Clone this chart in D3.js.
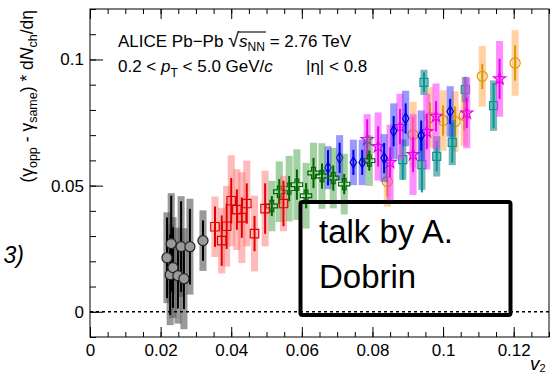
<!DOCTYPE html>
<html>
<head>
<meta charset="utf-8">
<script src="https://cdn.jsdelivr.net/npm/d3@7"></script>
<style>
  body { margin: 0; background: #fff; overflow: hidden; }
  text { font-family: "Liberation Sans", Arial, sans-serif; }
</style>
</head>
<body>
<div id="chart"></div>
<script>
// ----------- DATA -----------------------------------
// each colour = one centrality class, points = event-shape classes
const grayV2   = [0.0218, 0.0230, 0.0258, 0.0283, 0.0320, 0.0227, 0.0235, 0.0249, 0.0266];
const grayVal  = [0.0214, 0.0270, 0.0258, 0.0258, 0.0282, 0.0147, 0.0175, 0.0143, 0.0131];
const grayStat = [0.016, 0.019, 0.018, 0.015, 0.008, 0.016, 0.016, 0.013, 0.012];
const graySys  = [0.018, 0.020, 0.020, 0.019, 0.012, 0.020, 0.020, 0.019, 0.020];

const redV2   = [0.0354, 0.0373, 0.0387, 0.0400, 0.0416, 0.0430, 0.0444, 0.0466, 0.0496, 0.0548];
const redVal  = [0.0337, 0.0282, 0.0339, 0.0440, 0.0405, 0.0373, 0.0429, 0.0310, 0.0409, 0.0429];
const redStat = [0.008, 0.010, 0.009, 0.009, 0.008, 0.008, 0.008, 0.007, 0.010, 0.009];
const redSys  = [0.012, 0.013, 0.016, 0.018, 0.016, 0.018, 0.017, 0.015, 0.015, 0.011];

const greenV2   = [0.0515, 0.0536, 0.0564, 0.0586, 0.0612, 0.0633, 0.0657, 0.0689, 0.0720, 0.0791];
const greenVal  = [0.0419, 0.0476, 0.0488, 0.0504, 0.0460, 0.0550, 0.0538, 0.0530, 0.0506, 0.0599];
const greenStat = [0.004, 0.005, 0.005, 0.006, 0.005, 0.006, 0.005, 0.005, 0.004, 0.004];
const greenSys  = [0.010, 0.012, 0.013, 0.014, 0.013, 0.012, 0.013, 0.012, 0.012, 0.010];

const blueV2   = [0.0674, 0.0707, 0.0746, 0.0771, 0.0833, 0.0860, 0.0894, 0.0938, 0.1020];
const blueVal  = [0.0571, 0.0610, 0.0592, 0.0592, 0.0609, 0.0716, 0.0766, 0.0698, 0.0794];
const blueStat = [0.007, 0.006, 0.005, 0.005, 0.006, 0.006, 0.006, 0.006, 0.005];
const blueSys  = [0.0085, 0.009, 0.009, 0.009, 0.0095, 0.011, 0.011, 0.010, 0.010];

const magentaV2   = [0.0785, 0.0816, 0.0850, 0.0878, 0.0915, 0.0954, 0.0980, 0.1067, 0.1160];
const magentaVal  = [0.0683, 0.0655, 0.0592, 0.0734, 0.0623, 0.0714, 0.0775, 0.0788, 0.0923];
const magentaStat = [0.008, 0.008, 0.006, 0.007, 0.007, 0.007, 0.006, 0.006, 0.008];
const magentaSys  = [0.010, 0.0135, 0.015, 0.013, 0.016, 0.015, 0.013, 0.014, 0.015];

const tealV2   = [0.0886, 0.0940, 0.0946, 0.0982, 0.1026, 0.1063, 0.1143];
const tealVal  = [0.0603, 0.0583, 0.0909, 0.0616, 0.0671, 0.0881, 0.0817];
const tealStat = [0.008, 0.011, 0.004, 0.006, 0.008, 0.005, 0.009];
const tealSys  = [0.008, 0.010, 0.005, 0.008, 0.009, 0.005, 0.010];

const orangeV2   = [0.0842, 0.0915, 0.0963, 0.1000, 0.1034, 0.1060, 0.1111, 0.1204];
const orangeVal  = [0.0516, 0.0702, 0.0770, 0.0758, 0.0754, 0.0778, 0.0933, 0.0986];
const orangeStat = [0.006, 0.007, 0.006, 0.006, 0.006, 0.006, 0.005, 0.007];
const orangeSys  = [0.010, 0.013, 0.012, 0.012, 0.012, 0.012, 0.012, 0.013];

const v2SysHalf = 0.001; // half width of the systematic boxes along v2

const xTicks = [0, 0.02, 0.04, 0.06, 0.08, 0.1, 0.12];
const xTickLabels = ['0', '0.02', '0.04', '0.06', '0.08', '0.1', '0.12'];
const yTicks = [0, 0.05, 0.1];
const yTickLabels = ['0', '0.05', '0.1'];

// ----------- SVG ------------
const width = 551, height = 375;
const margin = { top: 9, right: 2, bottom: 38, left: 90 };

const svg = d3.select('#chart').append('svg')
  .attr('width', width)
  .attr('height', height);

const x = d3.scaleLinear().domain([0, 0.13]).range([margin.left, width - margin.right]);
const y = d3.scaleLinear().domain([-0.01, 0.12]).range([height - margin.bottom, margin.top]);

// series, drawn peripheral first so the central ones sit on top
const series = [
  { v2: orangeV2, val: orangeVal, stat: orangeStat, sys: orangeSys, shape: d3.symbolCircle, size: 80,
    box: '#ff9933', boxOp: 0.45, line: '#dd9900', fill: 'none' },
  { v2: tealV2, val: tealVal, stat: tealStat, sys: tealSys, shape: d3.symbolSquare, size: 64,
    box: '#228888', boxOp: 0.6, line: '#009999', fill: 'none' },
  { v2: magentaV2, val: magentaVal, stat: magentaStat, sys: magentaSys, shape: d3.symbolStar, size: 45,
    box: '#ff33ff', boxOp: 0.55, line: '#ee00ee', fill: 'none' },
  { v2: blueV2, val: blueVal, stat: blueStat, sys: blueSys, shape: d3.symbolDiamond, size: 36,
    box: '#3333ff', boxOp: 0.5, line: '#0000dd', fill: 'none' },
  { v2: greenV2, val: greenVal, stat: greenStat, sys: greenSys, shape: d3.symbolCross, size: 70,
    box: '#339933', boxOp: 0.45, line: '#006600', fill: 'none' },
  { v2: redV2, val: redVal, stat: redStat, sys: redSys, shape: d3.symbolSquare, size: 72,
    box: '#ff6666', boxOp: 0.45, line: '#e00000', fill: 'none' },
  { v2: grayV2, val: grayVal, stat: grayStat, sys: graySys, shape: d3.symbolCircle, size: 80,
    box: '#555555', boxOp: 0.6, line: '#000000', fill: '#999999' },
];

series.forEach(function (s) {
  const pts = s.v2.map(function (v, i) {
    return { v2: v, val: s.val[i], stat: s.stat[i], sys: s.sys[i] };
  });
  const g = svg.append('g');

  g.selectAll('rect').data(pts).enter().append('rect')
    .attr('x', (d) => x(d.v2 - v2SysHalf))
    .attr('width', (d) => x(d.v2 + v2SysHalf) - x(d.v2 - v2SysHalf))
    .attr('y', (d) => y(d.val + d.sys))
    .attr('height', (d) => y(d.val - d.sys) - y(d.val + d.sys))
    .attr('fill', s.box)
    .attr('fill-opacity', s.boxOp);

  g.selectAll('line').data(pts).enter().append('line')
    .attr('x1', (d) => x(d.v2))
    .attr('x2', (d) => x(d.v2))
    .attr('y1', (d) => y(d.val + d.stat))
    .attr('y2', (d) => y(d.val - d.stat))
    .attr('stroke', s.line)
    .attr('stroke-width', 2);

  g.selectAll('path').data(pts).enter().append('path')
    .attr('d', d3.symbol(s.shape, s.size))
    .attr('transform', (d) => `translate(${x(d.v2)},${y(d.val)})`)
    .attr('fill', s.fill)
    .attr('stroke', s.fill === 'none' ? s.line : '#222')
    .attr('stroke-width', 1.2);
});

// ----------- ZERO LINE ------------
svg.append('line')
  .attr('x1', x(0)).attr('x2', x(0.13))
  .attr('y1', y(0)).attr('y2', y(0))
  .attr('stroke', '#000')
  .attr('stroke-width', 1.4)
  .attr('stroke-dasharray', '3,3');

// ----------- AXES (ROOT style, ticks inside) ------------
const plotBottom = y.range()[0], plotTop = y.range()[1];

svg.append('g')
  .attr('transform', `translate(0,${plotBottom})`)
  .call(d3.axisBottom(x).tickValues(xTicks).tickSize(-10).tickPadding(7)
    .tickFormat((d, i) => xTickLabels[i]));
svg.append('g')
  .attr('transform', `translate(0,${plotBottom})`)
  .call(d3.axisBottom(x).tickValues(d3.range(0, 0.1301, 0.005)).tickSize(-5).tickFormat(''));
svg.append('g')
  .attr('transform', `translate(0,${plotTop})`)
  .call(d3.axisTop(x).tickValues(xTicks).tickSize(-10).tickFormat(''));
svg.append('g')
  .attr('transform', `translate(0,${plotTop})`)
  .call(d3.axisTop(x).tickValues(d3.range(0, 0.1301, 0.005)).tickSize(-5).tickFormat(''));

svg.append('g')
  .attr('transform', `translate(${margin.left},0)`)
  .call(d3.axisLeft(y).tickValues(yTicks).tickSize(-13).tickPadding(6)
    .tickFormat((d, i) => yTickLabels[i]));
svg.append('g')
  .attr('transform', `translate(${margin.left},0)`)
  .call(d3.axisLeft(y).tickValues(d3.range(-0.01, 0.1201, 0.01)).tickSize(-6).tickFormat(''));

svg.selectAll('.domain').remove();
svg.selectAll('.tick line').attr('stroke', '#000');
svg.selectAll('.tick text')
  .attr('fill', '#000')
  .style('font-size', '17px')
  .style('font-family', '"Liberation Sans", Arial, sans-serif');

svg.append('rect')
  .attr('x', x(0)).attr('y', plotTop)
  .attr('width', x(0.13) - x(0)).attr('height', plotBottom - plotTop)
  .attr('fill', 'none').attr('stroke', '#000').attr('stroke-width', 1);

// ----------- AXIS TITLES ------------
const yTitle = svg.append('text')
  .attr('transform', 'translate(33,10) rotate(-90)')
  .attr('text-anchor', 'end')
  .style('font-size', '17.5px');
yTitle.append('tspan').text('(γ');
yTitle.append('tspan').attr('dy', 4).style('font-size', '12.5px').text('opp');
yTitle.append('tspan').attr('dy', -4).text(' - γ');
yTitle.append('tspan').attr('dy', 4).style('font-size', '12.5px').text('same');
yTitle.append('tspan').attr('dy', -4).text(') * d');
yTitle.append('tspan').style('font-style', 'italic').text('N');
yTitle.append('tspan').attr('dy', 4).style('font-size', '12.5px').text('ch');
yTitle.append('tspan').attr('dy', -4).text('/dη');

const xTitle = svg.append('text')
  .attr('x', 530).attr('y', 370)
  .style('font-size', '19px');
xTitle.append('tspan').style('font-style', 'italic').text('v');
xTitle.append('tspan').attr('dy', 2).style('font-size', '11px').text('2');

// ----------- LABELS ------------
const line1 = svg.append('text').attr('x', 118).attr('y', 47).style('font-size', '17px');
line1.append('tspan').text('ALICE Pb−Pb ');
const sq = line1.append('tspan').style('font-size', '20px').text('√');
const sS = line1.append('tspan').style('font-style', 'italic').text('s');
const sNN = line1.append('tspan').attr('dy', 4).style('font-size', '12px').text('NN');
line1.append('tspan').attr('dy', -4).text(' = 2.76 TeV');
const olX0 = sq.node().getEndPositionOfChar(0).x - 1;
const olX1 = sNN.node().getEndPositionOfChar(1).x + 1;
svg.append('line')
  .attr('x1', olX0).attr('x2', olX1)
  .attr('y1', 32).attr('y2', 32)
  .attr('stroke', '#000').attr('stroke-width', 1.1);

const line2 = svg.append('text').attr('x', 118).attr('y', 72).style('font-size', '17px');
line2.append('tspan').text('0.2 < ');
line2.append('tspan').style('font-style', 'italic').text('p');
line2.append('tspan').attr('dy', 5).style('font-size', '12px').text('T');
line2.append('tspan').attr('dy', -5).text(' < 5.0 GeV/');
line2.append('tspan').style('font-style', 'italic').text('c');
line2.append('tspan').attr('x', 306).text('|η| < 0.8');

svg.append('text')
  .attr('x', 24).attr('y', 263)
  .attr('text-anchor', 'end')
  .style('font-size', '23px')
  .style('font-style', 'italic')
  .text('3)');

// talk box (transparent, data shows through)
svg.append('rect')
  .attr('x', 300.5).attr('y', 202)
  .attr('width', 210).attr('height', 113)
  .attr('rx', 2)
  .attr('fill', 'none')
  .attr('stroke', '#000')
  .attr('stroke-width', 4);
svg.append('text').attr('x', 319).attr('y', 243).style('font-size', '33px').text('talk by A.');
svg.append('text').attr('x', 319).attr('y', 288).style('font-size', '33px').text('Dobrin');
</script>
</body>
</html>
